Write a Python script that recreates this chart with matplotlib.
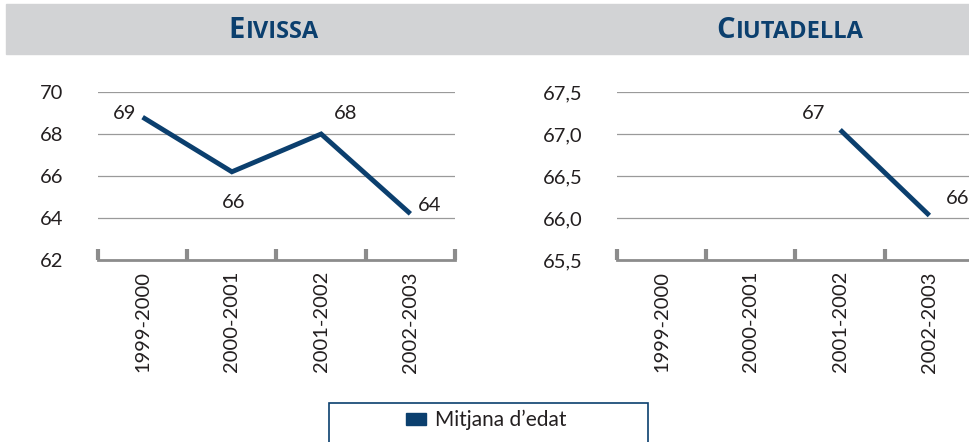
import numpy as np
import matplotlib.pyplot as plt
from matplotlib.patches import Rectangle, Patch

# data
periods = ['1999-2000', '2000-2001', '2001-2002', '2002-2003']
eivissa = [68.8, 66.2, 68.0, 64.2]
ciutadella = [np.nan, np.nan, 67.05, 66.03]
eivissa_ticks = [62, 64, 66, 68, 70]
ciutadella_ticks = [65.5, 66.0, 66.5, 67.0, 67.5]
series_name = "Mitjana d\u2019edat"

BLUE = '#0b3f6e'
GRAY = '#8c8c8c'
TXT = '#231f20'
FS = 14.5
plt.rcParams['font.family'] = ['Lato', 'DejaVu Sans']

W, H = 970, 442
fig = plt.figure(figsize=(W / 100, H / 100), dpi=100)


def px_box(x0, y0, x1, y1):
    # pixel box (top-left origin) -> figure fraction rect
    return [x0 / W, 1 - y1 / H, (x1 - x0) / W, (y1 - y0) / H]


def draw_panel(ax, values, yticks, fmt, label_offsets):
    x = np.arange(1, len(periods) + 1)
    ax.plot(x, values, color=BLUE, lw=3.5, solid_capstyle='butt', solid_joinstyle='miter')
    for xi, v, off in zip(x, values, label_offsets):
        if np.isnan(v):
            continue
        ax.annotate(f"{round(v)}", (xi, v), xytext=off, textcoords='offset points',
                    ha='center', va='center', fontsize=FS, color=TXT)
    ax.set_xlim(0.5, len(periods) + 0.5)
    ax.set_ylim(yticks[0], yticks[-1])
    ax.set_yticks(yticks)
    ax.set_yticklabels([fmt(t) for t in yticks], fontsize=FS, color=TXT)
    ax.set_xticks(x)
    ax.set_xticklabels(periods, rotation=90, fontsize=FS, color=TXT, va='top')
    ax.set_xticks(np.arange(0.5, len(periods) + 1), minor=True)
    ax.tick_params(axis='x', which='major', length=0, pad=8)
    ax.tick_params(axis='x', which='minor', direction='in', length=8, width=3, color=GRAY)
    ax.tick_params(axis='y', length=0, pad=25)
    for s in ['left', 'right', 'top']:
        ax.spines[s].set_visible(False)
    ax.spines['bottom'].set_color(GRAY)
    ax.spines['bottom'].set_linewidth(2)
    ax.grid(axis='y', color='#9a9a9a', lw=0.9)
    ax.set_axisbelow(True)
    ax.patch.set_alpha(0)


# header band
fig.patches.append(Rectangle((6 / W, 1 - 54 / H), 1, 50 / H, transform=fig.transFigure,
                             color='#d2d3d5', zorder=0))

ax1 = fig.add_axes(px_box(98, 92, 455, 260))
draw_panel(ax1, eivissa, eivissa_ticks, lambda t: f"{t:d}",
           [(-13, 3), (1.5, -22), (18, 15), (14, 6)])

ax2 = fig.add_axes(px_box(617, 92, 974, 260))
draw_panel(ax2, ciutadella, ciutadella_ticks, lambda t: f"{t:.1f}".replace('.', ','),
           [(0, 0), (0, 0), (-19, 11.5), (20, 12)])

# small-caps titles
renderer = fig.canvas.get_renderer()


def small_caps(text, cx, cy):
    big = fig.text(0, cy / H, text[0], fontsize=21, fontweight='bold', color=BLUE,
                   va='baseline', family=['Open Sans', 'DejaVu Sans'])
    small = fig.text(0, cy / H, text[1:], fontsize=17, fontweight='bold', color=BLUE,
                     va='baseline', family=['Open Sans', 'DejaVu Sans'])
    w1 = big.get_window_extent(renderer).width
    w2 = small.get_window_extent(renderer).width
    start = cx - (w1 + w2) / 2
    big.set_x(start / W)
    small.set_x((start + w1 + 1) / W)


small_caps('EIVISSA', 273, H - 38)
small_caps('CIUTADELLA', 790, H - 38)

# legend box (bottom cut off by figure edge)
fig.patches.append(Rectangle((329 / W, -0.05), 319 / W, (H - 403) / H + 0.05,
                             transform=fig.transFigure, fill=False, ec=BLUE, lw=1.2))
fig.legend(handles=[Patch(color=BLUE, label=series_name)], loc='center',
           bbox_to_anchor=(486 / W, 1 - 420 / H), frameon=False, fontsize=15,
           handlelength=1.0, handleheight=0.55, handletextpad=0.4, labelcolor=TXT)

fig.savefig('out.png', dpi=100)
